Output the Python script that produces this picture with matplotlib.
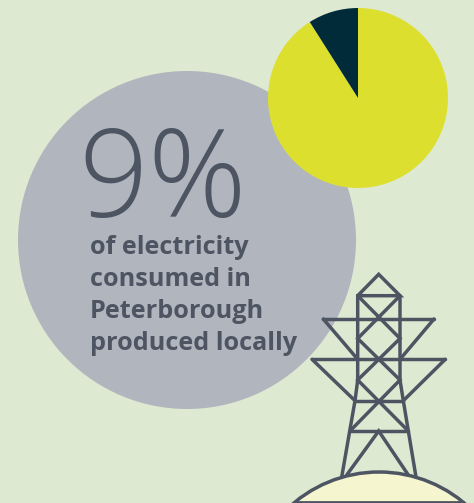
import matplotlib
matplotlib.use('Agg')
import matplotlib.pyplot as plt
from matplotlib.patches import Circle

W, H = 474, 503
BG = '#dde9d1'
GREY = '#b1b5be'
INK = '#4d5562'
YELLOW = '#dddf2f'
NAVY = '#022b3a'
HILL = '#f5f6d0'

# share of electricity
pie_labels = ['imported', 'local']
pie_values = [91, 9]
headline = '9%'
caption = ['of electricity', 'consumed in', 'Peterborough', 'produced locally']

fig = plt.figure(figsize=(W / 100, H / 100), dpi=100, facecolor=BG)
ax = fig.add_axes([0, 0, 1, 1])
ax.set_xlim(0, W)
ax.set_ylim(H, 0)
ax.axis('off')

ax.add_patch(Circle((187, 240), 169, fc=GREY, ec='none', zorder=1))

# pie sits on its own axes, positioned in pixels
cx, cy, r = 358, 98, 90
ax_pie = fig.add_axes([(cx - r) / W, 1 - (cy + r) / H, 2 * r / W, 2 * r / H], zorder=2)
ax_pie.pie(pie_values, colors=[YELLOW, NAVY], startangle=90, counterclock=False, radius=1)
ax_pie.set_xlim(-1, 1)
ax_pie.set_ylim(-1, 1)

ax.text(78, 217, headline, fontsize=88, family='Open Sans', weight='light', color=INK,
        va='baseline', ha='left', zorder=3)
baselines = [254, 286, 318, 350]
for line, y in zip(caption, baselines):
    ax.text(90, y, line, fontsize=18.2, family='Open Sans', weight='bold', color=INK,
            va='baseline', ha='left', zorder=3)

# pylon, each piece is a polyline in pixels
tower = [
    [(357.7, 295.7), (378.7, 274.3), (400, 295.7), (357.7, 295.7)],
    [(323.3, 319), (434, 319)],
    [(312, 359.3), (445.3, 359.3)],
    [(355, 400.7), (403.3, 400.7)],
    [(350, 431), (408.3, 431)],
    [(341.7, 477), (355, 400.7), (357.7, 380), (357.7, 295.7)],
    [(416, 477), (403.3, 400.7), (400, 380), (400, 295.7)],
    [(323.3, 319), (357.7, 359.3)],
    [(434, 319), (400, 359.3)],
    [(312, 359.3), (355, 400.7)],
    [(445.3, 359.3), (403.3, 400.7)],
    [(357.7, 295.7), (400, 338.5), (357.7, 380), (408.3, 431)],
    [(400, 295.7), (357.7, 338.5), (400, 380), (350, 431)],
    [(346.7, 475), (378.7, 431), (408.3, 475)],
]
for pts in tower:
    ax.plot([p[0] for p in pts], [p[1] for p in pts], color=INK, lw=2.5,
            solid_joinstyle='miter', solid_capstyle='round', zorder=4)

# hill with a flat base along the bottom edge
ax.add_patch(Circle((379, 604.5), 132.5, fc=HILL, ec=INK, lw=2.5, zorder=5))
ax.plot([295, 463], [502, 502], color=INK, lw=2.0, zorder=6)

fig.savefig('out.png', dpi=100, facecolor=BG)
